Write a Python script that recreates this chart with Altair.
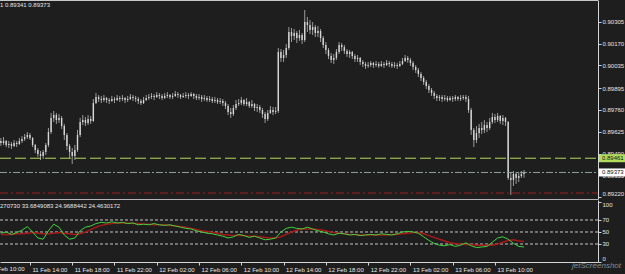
import altair as alt
import pandas as pd

# ---------------- data ----------------
bar_start = "2013-02-11 11:15"
bar_step = "15min"
first_open = 0.89568

highs = [
    0.89586, 0.89592, 0.89574, 0.89568, 0.89561, 0.89574, 0.89568, 0.89586, 0.89598, 0.89611,
    0.89623, 0.89617, 0.89592, 0.89549, 0.89524, 0.89506, 0.89512, 0.89555, 0.89648, 0.89741,
    0.89753, 0.89741, 0.89734, 0.89722, 0.89673, 0.89617, 0.89549, 0.89524, 0.89543, 0.89636,
    0.89710, 0.89728, 0.89716, 0.89728, 0.89722, 0.89827, 0.89864, 0.89852, 0.89846, 0.89852,
    0.89840, 0.89833, 0.89846, 0.89840, 0.89852, 0.89846, 0.89852, 0.89840, 0.89846, 0.89858,
    0.89852, 0.89846, 0.89840, 0.89827, 0.89840, 0.89852, 0.89858, 0.89864, 0.89858, 0.89870,
    0.89864, 0.89858, 0.89864, 0.89870, 0.89858, 0.89864, 0.89877, 0.89870, 0.89858, 0.89864,
    0.89870, 0.89864, 0.89870, 0.89864, 0.89858, 0.89858, 0.89852, 0.89852, 0.89846, 0.89846,
    0.89840, 0.89840, 0.89833, 0.89833, 0.89827, 0.89815, 0.89796, 0.89772, 0.89790, 0.89821,
    0.89827, 0.89840, 0.89827, 0.89833, 0.89815, 0.89821, 0.89802, 0.89796, 0.89790, 0.89772,
    0.89747, 0.89759, 0.89784, 0.89778, 0.89778, 0.90142, 0.90136, 0.90130, 0.90167, 0.90272,
    0.90266, 0.90260, 0.90247, 0.90254, 0.90235, 0.90377, 0.90334, 0.90315, 0.90303, 0.90284,
    0.90278, 0.90260, 0.90216, 0.90179, 0.90142, 0.90111, 0.90105, 0.90136, 0.90179, 0.90173,
    0.90161, 0.90136, 0.90130, 0.90124, 0.90105, 0.90099, 0.90087, 0.90068, 0.90056, 0.90056,
    0.90062, 0.90056, 0.90062, 0.90056, 0.90062, 0.90056, 0.90068, 0.90062, 0.90056, 0.90056,
    0.90050, 0.90062, 0.90081, 0.90099, 0.90093, 0.90081, 0.90062, 0.90037, 0.90019, 0.89994,
    0.89969, 0.89945, 0.89920, 0.89895, 0.89877, 0.89858, 0.89852, 0.89852, 0.89852, 0.89846,
    0.89846, 0.89846, 0.89852, 0.89846, 0.89852, 0.89852, 0.89852, 0.89846, 0.89772, 0.89648,
    0.89660, 0.89673, 0.89685, 0.89697, 0.89685, 0.89710, 0.89741, 0.89734, 0.89741, 0.89728,
    0.89728, 0.89716, 0.89691, 0.89376, 0.89382, 0.89376, 0.89376, 0.89382, 0.89388,
]
lows = [
    0.89537, 0.89543, 0.89530, 0.89524, 0.89518, 0.89530, 0.89530, 0.89543, 0.89555, 0.89568,
    0.89580, 0.89574, 0.89530, 0.89493, 0.89469, 0.89450, 0.89456, 0.89481, 0.89530, 0.89611,
    0.89685, 0.89673, 0.89679, 0.89642, 0.89574, 0.89512, 0.89463, 0.89425, 0.89450, 0.89500,
    0.89592, 0.89666, 0.89660, 0.89666, 0.89673, 0.89685, 0.89796, 0.89809, 0.89802, 0.89809,
    0.89802, 0.89796, 0.89809, 0.89802, 0.89815, 0.89809, 0.89815, 0.89802, 0.89809, 0.89821,
    0.89815, 0.89809, 0.89796, 0.89790, 0.89796, 0.89815, 0.89821, 0.89827, 0.89821, 0.89833,
    0.89827, 0.89821, 0.89827, 0.89833, 0.89827, 0.89827, 0.89840, 0.89833, 0.89827, 0.89833,
    0.89833, 0.89827, 0.89840, 0.89827, 0.89821, 0.89821, 0.89809, 0.89815, 0.89809, 0.89809,
    0.89802, 0.89802, 0.89796, 0.89796, 0.89784, 0.89765, 0.89728, 0.89710, 0.89722, 0.89759,
    0.89784, 0.89790, 0.89784, 0.89784, 0.89772, 0.89772, 0.89753, 0.89747, 0.89741, 0.89710,
    0.89679, 0.89691, 0.89734, 0.89728, 0.89734, 0.89741, 0.90056, 0.90056, 0.90081, 0.90130,
    0.90179, 0.90192, 0.90173, 0.90186, 0.90167, 0.90179, 0.90241, 0.90229, 0.90223, 0.90210,
    0.90210, 0.90179, 0.90142, 0.90105, 0.90074, 0.90050, 0.90043, 0.90068, 0.90105, 0.90124,
    0.90105, 0.90087, 0.90081, 0.90074, 0.90056, 0.90056, 0.90037, 0.90025, 0.90013, 0.90019,
    0.90025, 0.90019, 0.90025, 0.90019, 0.90025, 0.90019, 0.90031, 0.90025, 0.90019, 0.90019,
    0.90013, 0.90025, 0.90037, 0.90056, 0.90050, 0.90031, 0.90006, 0.89988, 0.89963, 0.89938,
    0.89914, 0.89889, 0.89864, 0.89846, 0.89827, 0.89815, 0.89815, 0.89809, 0.89815, 0.89809,
    0.89815, 0.89809, 0.89815, 0.89815, 0.89815, 0.89821, 0.89809, 0.89741, 0.89605, 0.89530,
    0.89555, 0.89586, 0.89611, 0.89617, 0.89623, 0.89636, 0.89673, 0.89679, 0.89685, 0.89673,
    0.89666, 0.89660, 0.89327, 0.89234, 0.89289, 0.89302, 0.89314, 0.89339, 0.89341,
]
closes = [
    0.89555, 0.89568, 0.89543, 0.89549, 0.89537, 0.89555, 0.89549, 0.89568, 0.89580, 0.89592,
    0.89605, 0.89586, 0.89543, 0.89512, 0.89487, 0.89475, 0.89500, 0.89543, 0.89623, 0.89710,
    0.89728, 0.89697, 0.89710, 0.89660, 0.89605, 0.89537, 0.89500, 0.89475, 0.89512, 0.89605,
    0.89685, 0.89697, 0.89679, 0.89704, 0.89691, 0.89802, 0.89840, 0.89827, 0.89821, 0.89833,
    0.89821, 0.89815, 0.89827, 0.89821, 0.89833, 0.89827, 0.89833, 0.89821, 0.89827, 0.89840,
    0.89833, 0.89827, 0.89815, 0.89802, 0.89821, 0.89833, 0.89840, 0.89846, 0.89840, 0.89852,
    0.89846, 0.89833, 0.89846, 0.89852, 0.89840, 0.89846, 0.89858, 0.89852, 0.89840, 0.89846,
    0.89852, 0.89846, 0.89858, 0.89846, 0.89833, 0.89840, 0.89827, 0.89833, 0.89821, 0.89827,
    0.89815, 0.89821, 0.89809, 0.89815, 0.89802, 0.89784, 0.89747, 0.89734, 0.89772, 0.89796,
    0.89802, 0.89821, 0.89796, 0.89809, 0.89784, 0.89796, 0.89772, 0.89778, 0.89759, 0.89734,
    0.89704, 0.89741, 0.89759, 0.89747, 0.89753, 0.90118, 0.90081, 0.90099, 0.90142, 0.90241,
    0.90216, 0.90235, 0.90204, 0.90223, 0.90192, 0.90303, 0.90284, 0.90254, 0.90272, 0.90235,
    0.90247, 0.90204, 0.90161, 0.90130, 0.90093, 0.90068, 0.90081, 0.90118, 0.90161, 0.90148,
    0.90124, 0.90105, 0.90118, 0.90093, 0.90074, 0.90081, 0.90056, 0.90043, 0.90031, 0.90037,
    0.90050, 0.90037, 0.90043, 0.90031, 0.90043, 0.90037, 0.90050, 0.90043, 0.90031, 0.90037,
    0.90031, 0.90043, 0.90062, 0.90081, 0.90068, 0.90050, 0.90025, 0.90006, 0.89982, 0.89957,
    0.89932, 0.89907, 0.89883, 0.89864, 0.89846, 0.89833, 0.89840, 0.89827, 0.89833, 0.89821,
    0.89833, 0.89827, 0.89840, 0.89827, 0.89833, 0.89840, 0.89827, 0.89759, 0.89636, 0.89574,
    0.89617, 0.89648, 0.89636, 0.89666, 0.89648, 0.89685, 0.89716, 0.89697, 0.89722, 0.89691,
    0.89710, 0.89685, 0.89339, 0.89327, 0.89364, 0.89339, 0.89351, 0.89364, 0.89373,
]

osc_start = "2013-02-11 11:15"
osc_step = "30min"
osc_green = [
    48, 50, 46, 49, 53, 59, 50, 40, 38, 52,
    63, 58, 45, 38, 40, 52, 58, 60, 64, 66,
    65, 67, 65, 66, 64, 65, 62, 63, 62, 64,
    62, 61, 62, 60, 58, 56, 55, 52, 50, 48,
    47, 45, 43, 40, 42, 46, 44, 41, 43, 40,
    37, 38, 40, 50, 56, 58, 56, 55, 58, 55,
    52, 50, 47, 45, 48, 47, 45, 46, 44, 45,
    46, 45, 47, 46, 45, 47, 50, 51, 50, 48,
    42, 36, 31, 28, 27, 29, 26, 28, 32, 27,
    24, 25, 26, 33, 40, 42, 38, 31, 26, 25,
]
osc_red = [
    46, 46, 46, 47, 47, 48, 49, 48, 47, 47,
    48, 49, 48, 47, 46, 47, 50, 54, 58, 61,
    63, 64, 65, 65, 65, 64, 64, 63, 63, 62,
    62, 62, 61, 60, 59, 58, 56, 54, 52, 51,
    49, 48, 46, 45, 44, 44, 44, 43, 43, 42,
    41, 40, 40, 42, 46, 50, 53, 55, 55, 55,
    54, 53, 51, 49, 48, 47, 46, 46, 45, 45,
    45, 45, 45, 45, 46, 46, 47, 48, 49, 49,
    47, 44, 41, 38, 35, 32, 31, 30, 29, 29,
    28, 28, 28, 28, 30, 33, 36, 37, 35, 34,
]

price_ticks = [0.90305, 0.90170, 0.90035, 0.89895, 0.89760, 0.89625, 0.89490, 0.89355, 0.89220]
osc_ticks = [0, 30, 50, 70, 100]
osc_levels = [30, 50, 70]
level_prices = [0.89461, 0.89373, 0.89246]
boxed_prices = [0.89461, 0.89373]
tick_days = [11, 11, 11, 12, 12, 12, 12, 12, 12, 13, 13, 13]
tick_hours = [14, 18, 22, 2, 6, 10, 14, 18, 22, 2, 6, 10]
cut_label = ("2013-02-11 10:00", "11 Feb 10:00")
header_main = "1 0.89341 0.89373"
header_sub = "270730 33.6849083 24.9688442 24.4630172"
watermark = "jetScreenshot"

# ---------------- styles ----------------
FONT = "Liberation Sans"
BG = "#1e1e1e"
TXT = "#e6e6e6"
LINE = "#d4d4d4"
W, H = 598, 262
level_colors = ["#b4dc5c", "#8aa697", "#9e1e1e"]
level_dashes = [[11, 4], [7, 2, 2, 2], [8, 3, 2, 3]]
box_colors = ["#b4dc5c", "#ffffff"]

# ---------------- tables ----------------
opens = [first_open] + closes[:-1]
candles = pd.DataFrame({
    "t": pd.date_range(bar_start, periods=len(closes), freq=bar_step),
    "open": opens, "high": highs, "low": lows, "close": closes,
})
osc = pd.DataFrame({
    "t": pd.date_range(osc_start, periods=len(osc_green), freq=osc_step),
    "green": osc_green, "red": osc_red,
})

x_scale = alt.Scale(
    domain=[alt.DateTime(year=2013, month=2, date=11, hours=11, minutes=10),
            alt.DateTime(year=2013, month=2, date=13, hours=19, minutes=45)],
    nice=False)
x_axis = alt.Axis(
    values=[alt.DateTime(year=2013, month=2, date=d, hours=h) for d, h in zip(tick_days, tick_hours)],
    format="%d %b %H:%M", labelAlign="left", labelOffset=2, labelFlush=False, labelOverlap=False,
    tickSize=3, labelPadding=1, title=None, grid=False,
    labelFont=FONT, labelFontSize=6, labelColor=TXT, domainColor=LINE, tickColor=LINE)

main_y = alt.Scale(domain=[0.89209, 0.90439], range=[199, 0], nice=False, zero=False)
sub_y = alt.Scale(domain=[0, 103.3], range=[262, 200], nice=False, zero=False)

main_axis = alt.Axis(
    orient="right", values=price_ticks, format=".5f", title=None, grid=False,
    tickSize=3, labelPadding=1, labelFont=FONT, labelFontSize=6, labelColor=TXT,
    domainColor=LINE, tickColor=LINE, labelOverlap=False, labelFlush=False,
    labelOffset={"condition": {"test": "datum.value < 0.8923", "value": -4}, "value": 0})
sub_axis = alt.Axis(
    orient="right", values=osc_ticks, format="d", title=None, grid=False,
    tickSize=3, labelPadding=1, labelFont=FONT, labelFontSize=6, labelColor=TXT,
    domainColor=LINE, tickColor=LINE, labelOverlap=False, labelFlush=False,
    labelBaseline={"condition": {"test": "datum.value >= 100", "value": "top"}, "value": "middle"},
    labelOffset={"condition": {"test": "datum.value <= 0", "value": -4}, "value": 0})

X = alt.X("t:T", scale=x_scale, axis=x_axis)
one = pd.DataFrame({"a": [0]})

top_border = alt.Chart(one).mark_rule(color="#c8c8c8", strokeWidth=1).encode(
    x=alt.value(0), x2=alt.value(W), y=alt.value(0.5))
separator = alt.Chart(one).mark_rule(color="#b4b4b4", strokeWidth=1).encode(
    x=alt.value(0), x2=alt.value(W), y=alt.value(199.5))

wicks = alt.Chart(candles).mark_rule(color="#9a9a9a", strokeWidth=1).encode(
    x=X, y=alt.Y("low:Q", scale=main_y, axis=main_axis), y2="high:Q")
bodies = alt.Chart(candles).mark_rule(color="#d6d6d6", strokeWidth=1.4).encode(
    x=X, y=alt.Y("open:Q", scale=main_y, axis=None), y2="close:Q")

levels = []
for p, col, dash in zip(level_prices, level_colors, level_dashes):
    levels.append(
        alt.Chart(pd.DataFrame({"price": [p]})).mark_rule(color=col, strokeWidth=1, strokeDash=dash).encode(
            x=alt.value(0), x2=alt.value(W), y=alt.Y("price:Q", scale=main_y, axis=None)))

box_df = pd.DataFrame({"price": boxed_prices,
                       "label": [f"{p:.5f}" for p in boxed_prices],
                       "fill": box_colors})
boxes = alt.Chart(box_df).mark_rule(strokeWidth=8).encode(
    x=alt.value(599), x2=alt.value(625),
    y=alt.Y("price:Q", scale=main_y, axis=None),
    color=alt.Color("fill:N", scale=None))
box_text = alt.Chart(box_df).mark_text(align="left", baseline="middle", font=FONT, fontSize=6,
                                       color="#111111").encode(
    x=alt.value(602), y=alt.Y("price:Q", scale=main_y, axis=None), text="label:N")

osc_lv = alt.Chart(pd.DataFrame({"v": osc_levels})).mark_rule(
    color="#c4c4c4", strokeWidth=1, strokeDash=[3, 2]).encode(
    x=alt.value(0), x2=alt.value(W), y=alt.Y("v:Q", scale=sub_y, axis=None))
red_line = alt.Chart(osc).mark_line(color="#a81818", strokeWidth=1.5).encode(
    x=X, y=alt.Y("red:Q", scale=sub_y, axis=sub_axis))
green_line = alt.Chart(osc).mark_line(color="#3fd23f", strokeWidth=1).encode(
    x=X, y=alt.Y("green:Q", scale=sub_y, axis=None))

hdr = alt.Chart(pd.DataFrame({"s": [header_main]})).mark_text(
    align="left", baseline="middle", font=FONT, fontSize=6, color=TXT).encode(
    x=alt.value(0), y=alt.value(5), text="s:N")
sub_hdr = alt.Chart(pd.DataFrame({"s": [header_sub]})).mark_text(
    align="left", baseline="middle", font=FONT, fontSize=6, color=TXT).encode(
    x=alt.value(0), y=alt.value(206), text="s:N")
cut = alt.Chart(pd.DataFrame({"t": [pd.Timestamp(cut_label[0])], "s": [cut_label[1]]})).mark_text(
    align="left", baseline="top", dx=2, font=FONT, fontSize=6, color=TXT).encode(
    x=X, y=alt.value(266), text="s:N")
wm = alt.Chart(pd.DataFrame({"s": [watermark]})).mark_text(
    align="right", baseline="middle", font=FONT, fontSize=8, fontStyle="italic", color="#8c8c8c").encode(
    x=alt.value(621), y=alt.value(266), text="s:N")

chart = alt.layer(
    top_border, separator, wicks, bodies, *levels, boxes, box_text,
    osc_lv, red_line, green_line, hdr, sub_hdr, cut, wm
).resolve_scale(y="independent").properties(
    width=W, height=H,
    padding={"left": 0, "top": 0, "right": 27, "bottom": 12},
    autosize=alt.AutoSizeParams(type="none"),
    background=BG,
).configure_view(stroke=None)

chart.save("out.html", embed_options={"renderer": "svg", "actions": False})
